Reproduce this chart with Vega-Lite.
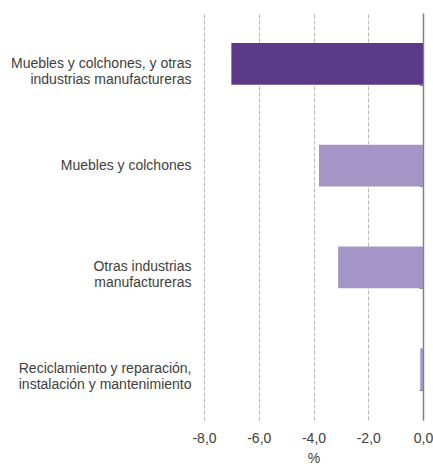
{
  "$schema": "https://vega.github.io/schema/vega-lite/v6.json",
  "width": 219,
  "height": 407,
  "autosize": {"type": "none"},
  "padding": {"left": 204, "top": 13, "right": 10, "bottom": 46},
  "background": "white",
  "config": {
    "font": "Liberation Sans",
    "view": {"stroke": null},
    "locale": {"number": {"decimal": ",", "thousands": ".", "grouping": [3], "currency": ["", " €"], "minus": "-"}},
    "axis": {"labelFont": "Liberation Sans", "titleFont": "Liberation Sans", "labelColor": "#404040", "titleColor": "#404040", "labelFontSize": 14, "titleFontSize": 14, "titleFontWeight": "normal"}
  },
  "data": {
    "values": [
      {"categoria": "Muebles y colchones, y otras|industrias manufactureras", "valor": -7.0, "grupo": "total"},
      {"categoria": "Muebles y colchones", "valor": -3.8, "grupo": "sub"},
      {"categoria": "Otras industrias|manufactureras", "valor": -3.1, "grupo": "sub"},
      {"categoria": "Reciclamiento y reparación,|instalación y mantenimiento", "valor": -0.1, "grupo": "sub"}
    ]
  },
  "resolve": {"axis": {"y": "independent"}},
  "layer": [
    {
      "mark": {"type": "bar"},
      "encoding": {
        "y": {
          "field": "categoria", "type": "nominal", "sort": null,
          "scale": {"paddingInner": 0.59, "paddingOuter": 0.295},
          "axis": {
            "orient": "left", "title": null, "domain": false, "ticks": false, "labelPadding": 13, "labelLineHeight": 16, "labelExpr": "split(datum.label, '|')", "labelLimit": 250,
            "encode": {"labels": {"update": {
              "align": {"signal": "datum.value === 'Muebles y colchones, y otras|industrias manufactureras' ? 'center' : 'right'"},
              "dx": {"signal": "datum.value === 'Muebles y colchones, y otras|industrias manufactureras' ? -90 : 0"}
            }}}
          }
        },
        "x": {
          "field": "valor", "type": "quantitative",
          "scale": {"domain": [-8, 0], "nice": false},
          "axis": {"values": [-8, -6, -4, -2, 0], "format": ".1f", "title": "%", "domain": false, "ticks": false, "labelFlush": false, "labelOverlap": false, "labelPadding": 11, "titlePadding": 6, "grid": true, "gridColor": "#b8b8b8", "gridDash": [4, 2], "gridWidth": 1}
        },
        "color": {
          "field": "grupo", "type": "nominal",
          "scale": {"domain": ["total", "sub"], "range": ["#5b3a87", "#a396c6"]},
          "legend": null
        }
      }
    },
    {
      "mark": {"type": "bar", "opacity": 0},
      "encoding": {
        "y": {
          "field": "categoria", "type": "nominal", "sort": null,
          "axis": {"orient": "right", "title": null, "labels": false, "domain": true, "domainColor": "#808080", "domainWidth": 1.5, "ticks": true, "tickBand": "extent", "tickSize": -4, "tickColor": "#808080", "grid": false}
        },
        "x": {"field": "valor", "type": "quantitative"}
      }
    }
  ]
}
